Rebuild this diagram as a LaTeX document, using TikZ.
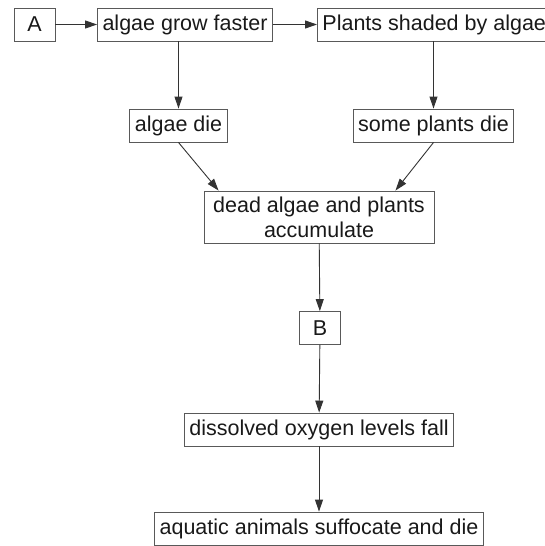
\documentclass[tikz,border=0pt]{standalone}
\usepackage{fontspec}
\setmainfont{Liberation Sans}
\usetikzlibrary{arrows.meta}
\tikzset{
            box/.style={draw=black!65, line width=0.9pt, minimum height=33pt, inner xsep=5pt, inner ysep=2pt, text=black!90},
            letter/.style={box, minimum width=41pt}
        }

\begin{document}
\begin{tikzpicture}[
                    x=1pt, y=-1pt,
                    every node/.style={font=\fontsize{21.5}{25}\selectfont},
                    >={Triangle[length=12pt,width=8pt]}, ->,
                    line width=0.9pt, color=black!80
                    ]
                \useasboundingbox (0,0) rectangle (545,546);
                \node[letter] (a) at (34.5,24.5) {A};
                \node[box] (grow) at (185,24.5) {algae grow faster};
                \node[box, anchor=west] (shade) at (317,24.5) {Plants shaded by algae};
                \node[box] (die) at (178.5,125.5) {algae die};
                \node[box] (dying) at (433.5,125.5) {some plants die};
                \node[box, minimum width=230pt, minimum height=52pt, align=center] (dead) at (319,217) {dead algae and plants\\accumulate};
                \node[letter] (b) at (320,328) {B};
                \node[box] (oxy) at (319,429.5) {dissolved oxygen levels fall};
                \node[box] (suff) at (319,528.5) {aquatic animals suffocate and die};
                \draw (a) -- (grow);
                \draw (grow) -- (shade);
                \draw (die.north |- grow.south) -- (die);
                \draw (dying.north |- shade.south) -- (dying);
                \draw (die.south) -- ([xshift=15pt]dead.north west);
                \draw (dying.south) -- ([xshift=-39pt]dead.north east);
                \draw (dead) -- (b);
                \draw (b) -- (oxy);
                \draw (oxy) -- (suff);
            \end{tikzpicture}
\end{document}
